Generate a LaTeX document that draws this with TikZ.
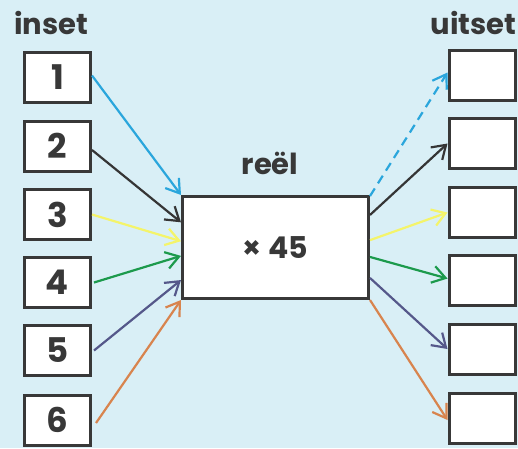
\documentclass[tikz,border=0pt]{standalone}
\usepackage{fontspec}
\setmainfont{Poppins}
\usetikzlibrary{arrows.meta,calc}
\definecolor{bg}{HTML}{D9EFF6}
\definecolor{ink}{HTML}{383838}
\definecolor{cblue}{HTML}{2AA6DC}
\definecolor{cdark}{HTML}{353535}
\definecolor{cyellow}{HTML}{F4F46A}
\definecolor{cgreen}{HTML}{1C9A4C}
\definecolor{cpurple}{HTML}{55588A}
\definecolor{corange}{HTML}{D8844E}
\tikzset{
  box/.style={draw=ink, line width=3pt, fill=white, minimum width=66pt, minimum height=50pt, inner sep=0pt, font=\fontsize{34}{36}\selectfont\bfseries, text=ink},
  bigbox/.style={draw=ink, line width=3pt, fill=white, minimum width=186pt, minimum height=102pt, inner sep=0pt, font=\fontsize{30}{32}\selectfont\bfseries, text=ink},
  lbl/.style={font=\fontsize{29}{31}\selectfont\bfseries, text=ink, inner sep=0pt},
  arr/.style={line width=2.2pt, -{Straight Barb[length=13pt,width=17pt,line width=2.2pt]}}
}
\begin{document}
\begin{tikzpicture}[x=1pt,y=-1pt]
\fill[bg] (0,0) rectangle (518,448);
\useasboundingbox (0,0) rectangle (518,448);
\node[lbl, anchor=base] (tin) at (51,34) {inset};
\node[lbl, anchor=base] (tout) at (473.5,34) {uitset};
\node[lbl, anchor=base] (treel) at (270,174) {reël};
\node[box] (l1) at (57.5,77.5) {1};
\node[box] (l2) at (57.5,146) {2};
\node[box] (l3) at (57.5,214.5) {3};
\node[box] (l4) at (57.5,282.5) {4};
\node[box] (l5) at (57.5,350.5) {5};
\node[box] (l6) at (57.5,420) {6};
\node[box] (r1) at (482,75.5) {};
\node[box] (r2) at (482,143.5) {};
\node[box] (r3) at (482,212.5) {};
\node[box] (r4) at (482,280.5) {};
\node[box] (r5) at (482,349) {};
\node[box] (r6) at (482,418) {};
\node[bigbox] (c) at (275.5,247.5) {× 45};
% left arrows
\draw[arr, cblue] ($(l1.east)+(0,-2)$) -- ($(c.north west)!0.0!(c.south west)$);
\draw[arr, cdark] ($(l2.east)+(0,4)$) -- ($(c.north west)!0.26!(c.south west)$);
\draw[arr, cyellow] (l3.east) -- ($(c.north west)!0.44!(c.south west)$);
\draw[arr, cgreen] ($(l4.east)+(2,0)$) -- ($(c.north west)!0.58!(c.south west)$);
\draw[arr, cpurple] ($(l5.east)+(2,0)$) -- ($(c.north west)!0.81!(c.south west)$);
\draw[arr, corange] ($(l6.east)+(4,3)$) -- ($(c.north west)!1.0!(c.south west)$);
% right arrows
\draw[arr, cblue, dash pattern=on 9pt off 6pt] ($(c.north east)!0.01!(c.south east)$) -- ($(r1.west)+(0,-3)$);
\draw[arr, cdark] ($(c.north east)!0.19!(c.south east)$) -- (r2.west);
\draw[arr, cyellow] ($(c.north east)!0.43!(c.south east)$) -- (r3.west);
\draw[arr, cgreen] ($(c.north east)!0.59!(c.south east)$) -- ($(r4.west)+(0,-2)$);
\draw[arr, cpurple] ($(c.north east)!0.79!(c.south east)$) -- (r5.west);
\draw[arr, corange] ($(c.north east)!1.0!(c.south east)$) -- ($(r6.west)+(0,2)$);
\end{tikzpicture}
\end{document}
